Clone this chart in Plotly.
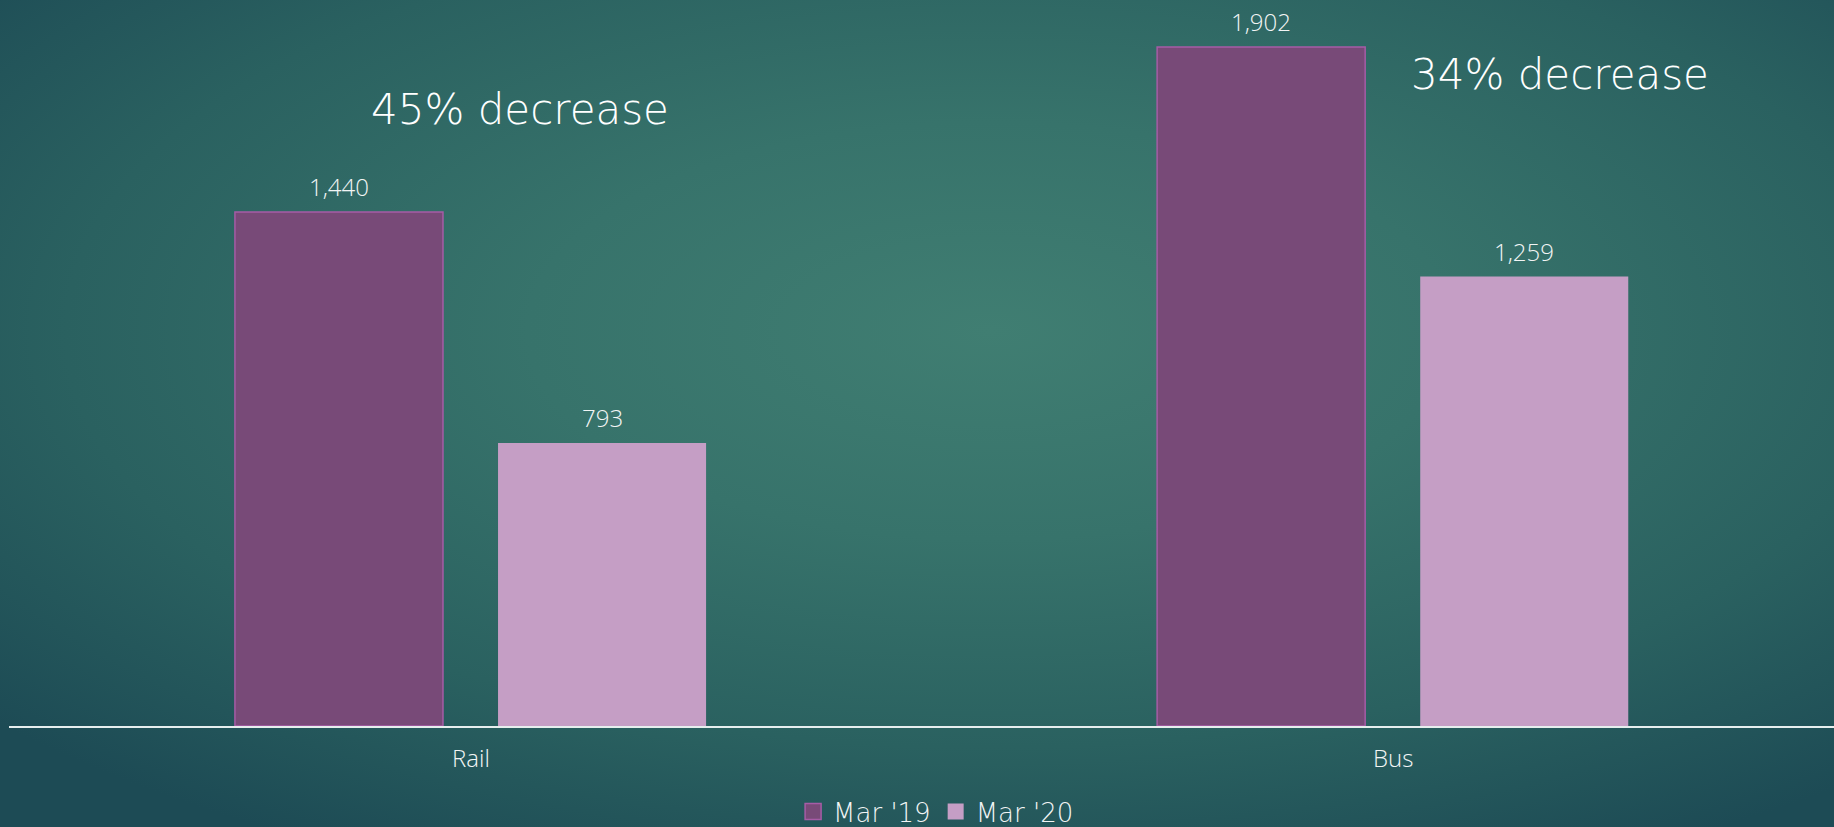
import base64
import plotly.graph_objects as go

categories = ["Rail", "Bus"]
series_names = ["Mar '19", "Mar '20"]
mar19 = [1440, 1902]
mar20 = [793, 1259]
annot_texts = ["45% decrease", "34% decrease"]

W, H = 1834, 827
C19, C19_LINE = "#784a78", "#a65ca6"
C20 = "#c59ec5"
TXT = "#f2f5f5"
BAR_W = 0.2256
OFF19, OFF20 = -0.256, 0.0293
HEAD_FONT = "DejaVu Sans"

svg = (
    f"<svg xmlns='http://www.w3.org/2000/svg' width='{W}' height='{H}' preserveAspectRatio='none' viewBox='0 0 {W} {H}'>"
    "<defs><radialGradient id='g' cx='0.54' cy='0.40' r='0.72'>"
    "<stop offset='0' stop-color='#407e72'/>"
    "<stop offset='0.35' stop-color='#37736b'/>"
    "<stop offset='0.7' stop-color='#2a6160'/>"
    "<stop offset='1' stop-color='#1d4b55'/>"
    "</radialGradient></defs>"
    f"<rect width='{W}' height='{H}' fill='url(#g)'/></svg>"
)
bg_src = "data:image/svg+xml;base64," + base64.b64encode(svg.encode()).decode()

fig = go.Figure()
fig.add_trace(go.Bar(x=categories, y=mar19, name=series_names[0], width=BAR_W, offset=OFF19,
                     marker=dict(color=C19, line=dict(color=C19_LINE, width=1.5)), showlegend=False))
fig.add_trace(go.Bar(x=categories, y=mar20, name=series_names[1], width=BAR_W, offset=OFF20,
                     marker=dict(color=C20, line=dict(color=C20, width=0)), showlegend=False))
# legend entries
fig.add_trace(go.Scatter(x=[None], y=[None], mode="markers", name=series_names[0],
                         marker=dict(symbol="square", size=16, color=C19, line=dict(color=C19_LINE, width=1.5))))
fig.add_trace(go.Scatter(x=[None], y=[None], mode="markers", name=series_names[1],
                         marker=dict(symbol="square", size=16, color=C20, line=dict(color=C20, width=0))))

annotations = []
for i, cat in enumerate(categories):
    for vals, off in ((mar19, OFF19), (mar20, OFF20)):
        annotations.append(dict(x=i + off + BAR_W / 2, y=vals[i], xref="x", yref="y",
                                text=f"{vals[i]:,}", showarrow=False, yanchor="bottom",
                                yshift=7, font=dict(family="Open Sans", size=24, color=TXT, weight=300)))
annotations.append(dict(x=0.28, y=0.8485, xref="paper", yref="paper", text=annot_texts[0],
                        showarrow=False, xanchor="center", yanchor="middle",
                        font=dict(family=HEAD_FONT, size=42, color="#ffffff", weight=200)))
annotations.append(dict(x=0.85, y=0.8967, xref="paper", yref="paper", text=annot_texts[1],
                        showarrow=False, xanchor="center", yanchor="middle",
                        font=dict(family=HEAD_FONT, size=42, color="#ffffff", weight=200)))

fig.update_layout(
    width=W, height=H, autosize=False,
    margin=dict(l=9, r=0, t=0, b=101, pad=0, autoexpand=False),
    paper_bgcolor="#2c6462", plot_bgcolor="rgba(0,0,0,0)",
    barmode="group",
    images=[dict(source=bg_src, xref="paper", yref="paper", x=-9 / 1825, y=1,
                 sizex=W / 1825, sizey=H / 726, sizing="stretch", layer="below",
                 xanchor="left", yanchor="top")],
    xaxis=dict(range=[-0.501, 1.478], showgrid=False, zeroline=False, showline=True,
               linecolor="#e6eeee", linewidth=2, ticks="", ticklabelstandoff=10,
               tickfont=dict(family="Open Sans", size=24, color=TXT, weight=300)),
    yaxis=dict(range=[0, 2033.6], visible=False, showgrid=False, zeroline=False),
    legend=dict(orientation="h", x=0.508, xanchor="center", y=-0.118, yanchor="middle",
                font=dict(family=HEAD_FONT, size=26, color=TXT, weight=200), bgcolor="rgba(0,0,0,0)",
                itemsizing="trace", itemwidth=30),
    annotations=annotations,
)

fig.write_html("out.html")
